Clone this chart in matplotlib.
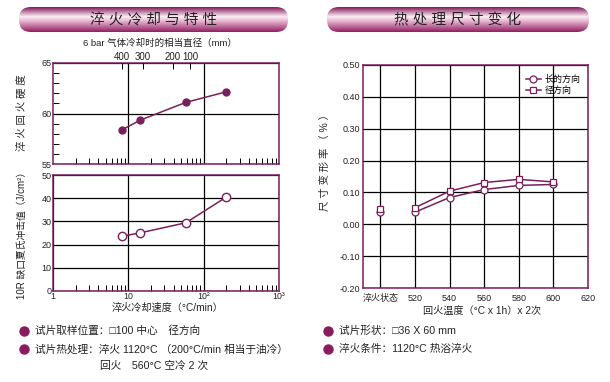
import numpy as np
import matplotlib
matplotlib.use('Agg')
from matplotlib import pyplot as plt
from matplotlib.colors import LinearSegmentedColormap
from matplotlib.patches import FancyBboxPatch
from matplotlib.ticker import LogLocator, NullFormatter, MultipleLocator, FixedLocator

plt.rcParams['font.family'] = ['Liberation Sans', 'Noto Sans CJK SC', 'DejaVu Sans']
plt.rcParams['axes.unicode_minus'] = False

# 左图数据: 冷却速度 vs 硬度 / 冲击值
cool_rate = [8.3, 14.5, 58, 200]
hardness = [58.4, 59.35, 61.1, 62.15]
impact = [23.6, 25.1, 29.4, 40.5]
diam_pos = [8.25, 15.7, 39, 66]
diam_labels = ['400', '300', '200', '100']
rate_ticks = [1, 10, 100, 1000]
rate_labels = ['1', '10', '10²', '10³']

# 右图数据: 回火温度 vs 尺寸变形率
temp_ticks = [500, 520, 540, 560, 580, 600, 620]
temp_labels = ['淬火状态', '520', '540', '560', '580', '600', '620']
temper_temp = [520, 540, 560, 580, 600]
long_dir = [0.038, 0.084, 0.109, 0.122, 0.125]
radial_dir = [0.052, 0.104, 0.131, 0.141, 0.133]
quench_long = 0.037
quench_radial = 0.047

main = '#7b1f5c'
spine_c = '#7a1e5e'
txt = '#222222'

fig = plt.figure(figsize=(6.1, 3.82), dpi=100)

# 背景层: 标题横幅和说明文字
bg = fig.add_axes([0, 0, 1, 1])
bg.set_xlim(0, 610)
bg.set_ylim(382, 0)
bg.axis('off')

cmap = LinearSegmentedColormap.from_list('band', [(0, '#861a5a'), (0.38, '#fbeef5'), (0.55, '#e9b9d3'), (1, '#931f62')])
grad = np.linspace(0, 1, 100).reshape(-1, 1)
for x0, x1, title in [(7, 300, '淬 火 冷 却 与 特 性'), (315, 601, '热 处 理 尺 寸 变 化')]:
    im = bg.imshow(grad, cmap=cmap, aspect='auto', extent=(x0, x1, 32, 7), zorder=1)
    box = FancyBboxPatch((x0 + 12, 7), x1 - x0 - 24, 25, boxstyle='round,pad=0,rounding_size=12',
                         transform=bg.transData, facecolor='none', edgecolor='none')
    bg.add_patch(box)
    im.set_clip_path(box)
    bg.text((x0 + x1) / 2, 20, title, fontsize=10.5, color=txt, ha='center', va='center', zorder=2)

notes = [(24, 331, '试片取样位置：□100 中心　径方向'),
         (24, 349, '试片热处理：淬火 1120°C （200°C/min 相当于油冷）'),
         (328, 331, '试片形状：□36 X 60 mm'),
         (328, 349, '淬火条件：1120°C 热浴淬火')]
for bx, by, s in notes:
    bg.plot(bx, by, 'o', color='#8b1a5e', markersize=6.5)
    bg.text(bx + 11, by, s, fontsize=7.7, color=txt, va='center')
bg.text(100, 366, '回火　560°C 空冷 2 次', fontsize=7.7, color=txt, va='center')
bg.text(22, 113, '淬 火 回 火 硬 度', fontsize=7.5, color=txt, rotation=90, ha='center', va='center')
bg.text(22, 233, '10R 缺口夏氏冲击值（J/cm²）', fontsize=7, color=txt, rotation=90, ha='center', va='center')
bg.text(160, 43, '6 bar 气体冷却时的相当直径（mm）', fontsize=6.8, color=txt, ha='center', va='center')
bg.text(168, 308, '淬火冷却速度（°C/min）', fontsize=7.3, color=txt, ha='center', va='center')
bg.text(482, 311, '回火温度（°C x 1h）x 2次', fontsize=7.3, color=txt, ha='center', va='center')
bg.text(325, 160, '尺 寸 变 形 率 （ % ）', fontsize=7.5, color=txt, rotation=90, ha='center', va='center')


def style(ax):
    for sp in ax.spines.values():
        sp.set_color(spine_c)
        sp.set_linewidth(1.1)
    ax.grid(True, which='major', color='black', linewidth=0.9)
    ax.tick_params(which='both', direction='in', labelsize=6.5, colors='black', labelcolor=txt)
    ax.tick_params(which='major', length=0, pad=2)
    ax.tick_params(which='minor', length=4, width=0.7)


# 左上: 硬度
ax1 = fig.add_axes([53 / 610, 1 - 164 / 382, 226 / 610, 101 / 382])
ax1.plot(cool_rate, hardness, '-o', color=main, markersize=5, linewidth=1.1, zorder=3)
ax1.set_xscale('log')
ax1.set_xlim(1, 1000)
ax1.set_ylim(55, 65)
ax1.set_yticks([55, 60, 65])
ax1.yaxis.set_minor_locator(MultipleLocator(1))
ax1.xaxis.set_major_locator(FixedLocator([10, 100]))
ax1.xaxis.set_minor_locator(LogLocator(base=10, subs=np.arange(2, 10)))
ax1.xaxis.set_major_formatter(NullFormatter())
ax1.xaxis.set_minor_formatter(NullFormatter())
style(ax1)
ax1.tick_params(axis='y', pad=1)

top = ax1.twiny()
top.set_xscale('log')
top.set_xlim(1, 1000)
top.xaxis.set_major_locator(FixedLocator(diam_pos))
top.xaxis.set_major_formatter(plt.FixedFormatter(diam_labels))
top.xaxis.set_minor_locator(FixedLocator([]))
top.tick_params(axis='x', direction='in', length=4, width=0.7, labelsize=7, pad=1, labelcolor=txt)
for sp in top.spines.values():
    sp.set_visible(False)

# 左下: 冲击值
ax2 = fig.add_axes([53 / 610, 1 - 291 / 382, 226 / 610, 116 / 382])
ax2.plot(cool_rate, impact, '-o', color=main, markerfacecolor='white', markeredgecolor=main,
         markersize=6, markeredgewidth=1, linewidth=1.1, zorder=3)
ax2.set_xscale('log')
ax2.set_xlim(1, 1000)
ax2.set_ylim(0, 50)
ax2.set_yticks(range(0, 51, 10))
ax2.xaxis.set_major_locator(FixedLocator(rate_ticks))
ax2.xaxis.set_major_formatter(plt.FixedFormatter(rate_labels))
ax2.xaxis.set_minor_locator(LogLocator(base=10, subs=np.arange(2, 10)))
ax2.xaxis.set_minor_formatter(NullFormatter())
style(ax2)
ax2.tick_params(axis='y', pad=1)
ax2.tick_params(axis='x', which='major', pad=0.5, labelsize=6.3)

# 右: 尺寸变化
ax3 = fig.add_axes([363 / 610, 1 - 288 / 382, 225 / 610, 223 / 382])
ax3.plot(temper_temp, long_dir, '-o', color=main, markerfacecolor='white', markeredgecolor=main,
         markersize=5, markeredgewidth=0.9, linewidth=1.1, zorder=3, label='长的方向')
ax3.plot(temper_temp, radial_dir, '-s', color=main, markerfacecolor='white', markeredgecolor=main,
         markersize=5, markeredgewidth=0.9, linewidth=1.1, zorder=4, label='径方向')
ax3.plot([500], [quench_long], 'o', color=main, markerfacecolor='white', markersize=5, markeredgewidth=0.9, zorder=3)
ax3.plot([500], [quench_radial], 's', color=main, markerfacecolor='white', markersize=5, markeredgewidth=0.9, zorder=4)
ax3.set_xlim(490, 620)
ax3.set_ylim(-0.2, 0.5)
ax3.set_xticks(temp_ticks)
ax3.set_xticklabels(temp_labels)
ax3.set_yticks(np.arange(-0.2, 0.51, 0.1))
ax3.set_yticklabels(['%.2f' % v for v in np.arange(-0.2, 0.51, 0.1)])
style(ax3)
ax3.tick_params(axis='x', pad=4)
ax3.tick_params(axis='y', pad=2)
ax3.legend(loc='upper right', bbox_to_anchor=(0.99, 0.98), frameon=False, fontsize=6.5,
           handlelength=1.6, handletextpad=0.4, labelspacing=0.2, borderaxespad=0.2)

fig.savefig('out.png', dpi=100)
